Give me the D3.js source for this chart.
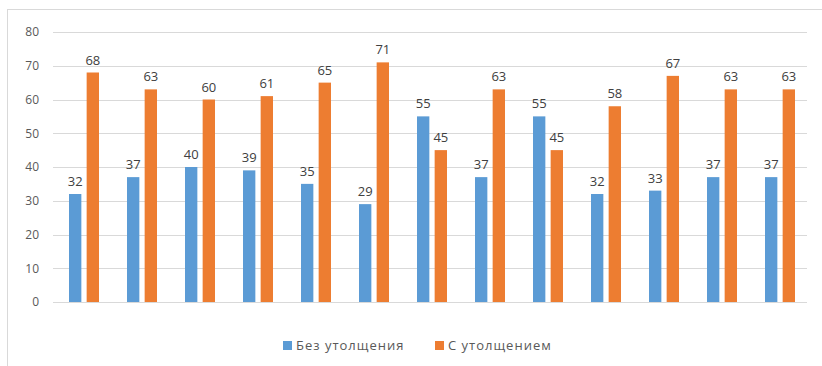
<!DOCTYPE html>
<html>
<head>
<meta charset="utf-8">
<script src="https://cdn.jsdelivr.net/npm/d3@7"></script>
<style>
  body { margin: 0; background: #fff; }
  text { font-family: "Open Sans", "DejaVu Sans", sans-serif; }
</style>
</head>
<body>
<div id="chart"></div>
<script>
var categories = ["1", "2", "3", "4", "5", "6", "7", "8", "9", "10", "11", "12", "13"];
var withoutThick = [32, 37, 40, 39, 35, 29, 55, 37, 55, 32, 33, 37, 37];
var withThick = [68, 63, 60, 61, 65, 71, 45, 63, 45, 58, 67, 63, 63];
var seriesNames = ["Без утолщения", "С утолщением"];
var colors = ["#5b9bd5", "#ed7d31"];
var yTicks = [0, 10, 20, 30, 40, 50, 60, 70, 80];

var W = 822, H = 366;
var margin = {top: 32, right: 15, bottom: 64, left: 53};
var width = W - margin.left - margin.right,
    height = H - margin.top - margin.bottom;

var svg = d3.select("#chart")
  .append("svg")
  .attr("width", W)
  .attr("height", H);

// chart area border
svg.append("rect")
  .attr("x", 7.5).attr("y", 9.5)
  .attr("width", W + 10).attr("height", H)
  .attr("fill", "none")
  .attr("stroke", "#d9d9d9");

var g = svg.append("g")
  .attr("transform", "translate(" + margin.left + "," + margin.top + ")");

var x = d3.scaleBand().domain(categories).range([0, width]).paddingInner(0).paddingOuter(0);
var y = d3.scaleLinear().domain([0, 80]).range([height, 0]);
var x1 = d3.scaleBand().domain([0, 1]).range([x.bandwidth() / 2 - 13, x.bandwidth() / 2 + 17]).paddingInner(0.3);

// gridlines
g.selectAll("line.grid")
  .data(yTicks)
  .enter()
  .append("line")
    .attr("class", "grid")
    .attr("x1", 0).attr("x2", width)
    .attr("y1", function(d) { return Math.round(y(d)) + 0.5; })
    .attr("y2", function(d) { return Math.round(y(d)) + 0.5; })
    .style("stroke", "#d9d9d9");

// y axis labels
var yAxis = d3.axisLeft(y).tickValues(yTicks).tickSize(0).tickPadding(14);
g.append("g").call(yAxis)
  .call(function(a) { a.select(".domain").remove(); })
  .selectAll("text")
    .style("font-size", "12px")
    .style("fill", "#595959");

var data = categories.map(function(c, i) {
  return {cat: c, vals: [withoutThick[i], withThick[i]]};
});

var groups = g.selectAll("g.grp")
  .data(data)
  .enter()
  .append("g")
    .attr("class", "grp")
    .attr("transform", function(d) { return "translate(" + x(d.cat) + ",0)"; });

groups.selectAll("rect")
  .data(function(d) { return d.vals; })
  .enter()
  .append("rect")
    .attr("x", function(d, i) { return x1(i); })
    .attr("y", function(d) { return y(d); })
    .attr("width", x1.bandwidth())
    .attr("height", function(d) { return height - y(d); })
    .style("fill", function(d, i) { return colors[i]; });

groups.selectAll("text")
  .data(function(d) { return d.vals; })
  .enter()
  .append("text")
    .attr("x", function(d, i) { return x1(i) + x1.bandwidth() / 2; })
    .attr("y", function(d) { return y(d) - 8; })
    .attr("text-anchor", "middle")
    .style("font-size", "13px")
    .style("fill", "#404040")
    .text(function(d) { return d; });

// legend
var legend = svg.append("g").attr("transform", "translate(283,345)");
var lx = [0, 152];
seriesNames.forEach(function(name, i) {
  legend.append("rect")
    .attr("x", lx[i]).attr("y", -4)
    .attr("width", 9).attr("height", 9)
    .style("fill", colors[i]);
  legend.append("text")
    .attr("x", lx[i] + 13).attr("y", 5)
    .style("font-size", "13px")
    .style("letter-spacing", "1px")
    .style("fill", "#595959")
    .text(name);
});
</script>
</body>
</html>
